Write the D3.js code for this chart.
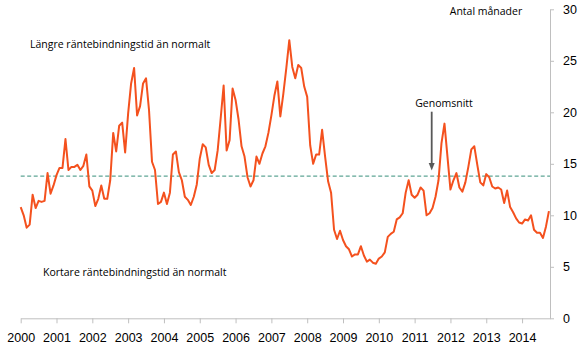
<!DOCTYPE html>
<html>
<head>
<meta charset="utf-8">
<script src="https://cdn.jsdelivr.net/npm/d3@7"></script>
<style>
  body { margin: 0; background: #fff; }
  svg { display: block; font-family: "Open Sans", sans-serif; }
</style>
</head>
<body>
<div id="chart"></div>
<script>
// monthly values, Jan 2000 - Oct 2014 (antal månader)
const startYear = 2000;
const months = [
    10.8, 10.0, 8.8, 9.1, 12.0, 10.7, 11.4, 11.3, 11.4, 14.1, 12.1, 12.9,
    13.9, 14.6, 14.6, 17.4, 14.4, 14.7, 14.7, 14.9, 14.4, 14.8, 15.9, 12.8,
    12.4, 10.9, 11.6, 12.9, 11.6, 11.6, 13.4, 18.0, 16.2, 18.7, 19.0, 16.1,
    19.9, 22.8, 24.3, 19.7, 20.6, 22.8, 23.3, 20.2, 15.2, 14.4, 11.1, 11.3,
    12.2, 11.1, 12.2, 15.9, 16.2, 14.2, 13.4, 11.8, 11.5, 11.0, 11.8, 13.0,
    15.5, 16.9, 16.6, 14.9, 14.1, 14.4, 16.3, 19.4, 22.6, 16.3, 17.3, 22.3,
    21.2, 19.3, 16.7, 15.7, 13.7, 12.8, 13.4, 15.7, 15.0, 16.0, 16.7, 18.0,
    19.7, 21.6, 23.0, 19.6, 21.8, 24.3, 27.0, 24.4, 23.3, 24.6, 24.3, 22.5,
    21.5, 16.8, 15.0, 15.9, 15.9, 18.3, 15.7, 13.3, 12.2, 8.6, 7.7, 8.5,
    7.6, 7.0, 6.7, 6.0, 6.2, 6.2, 7.0, 6.1, 5.5, 5.7, 5.4, 5.3,
    5.8, 6.0, 6.4, 7.9, 8.2, 8.4, 9.6, 9.8, 10.2, 12.2, 13.4, 12.0,
    11.7, 12.0, 12.7, 12.4, 10.0, 10.2, 10.7, 11.8, 13.4, 17.0, 18.9, 15.7,
    12.5, 13.4, 14.1, 12.7, 12.3, 13.2, 14.7, 16.4, 16.7, 14.9, 13.2, 12.9,
    14.0, 13.7, 12.8, 12.6, 12.7, 12.5, 11.2, 12.4, 10.8, 10.3, 9.7, 9.3,
    9.2, 9.6, 9.5, 10.0, 8.6, 8.3, 8.3, 7.8, 8.9, 10.4
];
const average = 13.8;
const yearTicks = d3.range(2000, 2015);
const yTicks = [0, 5, 10, 15, 20, 25, 30];

const WIDTH = 588, HEIGHT = 350;

const svg = d3.select("#chart")
    .append("svg")
    .attr("width", WIDTH)
    .attr("height", HEIGHT);

const x = d3.scaleLinear()
    .domain([startYear, 2014.78])
    .range([20.7, 550]);

const y = d3.scaleLinear()
    .domain([0, 30])
    .range([318.3, 9.3]);

const data = months.map((v, i) => ({ t: startYear + i / 12, v: v }));

// x axis
const xAxis = svg.append("g")
    .attr("transform", `translate(0, ${y(0)})`)
    .call(d3.axisBottom(x)
        .tickValues(yearTicks)
        .tickFormat(d3.format("d"))
        .tickSizeInner(5)
        .tickSizeOuter(0)
        .tickPadding(10));
xAxis.select(".domain").attr("stroke", "#bfbfbf");
xAxis.selectAll(".tick line").attr("stroke", "#bfbfbf");
xAxis.selectAll("text")
    .attr("font-size", "12.5px")
    .attr("fill", "#000");

// y axis on the right
const yAxis = svg.append("g")
    .attr("transform", `translate(${x.range()[1]}, 0)`)
    .call(d3.axisRight(y)
        .tickValues(yTicks)
        .tickSizeInner(4)
        .tickSizeOuter(0)
        .tickPadding(9));
yAxis.select(".domain").attr("stroke", "#bfbfbf");
yAxis.selectAll(".tick line").attr("stroke", "#bfbfbf");
yAxis.selectAll("text")
    .attr("font-size", "12.5px")
    .attr("fill", "#000");

// average line
svg.append("line")
    .attr("x1", x(startYear))
    .attr("x2", x.range()[1])
    .attr("y1", y(average))
    .attr("y2", y(average))
    .attr("stroke", "#5fa595")
    .attr("stroke-width", 1.3)
    .attr("stroke-dasharray", "4,2.5");

// series
const line = d3.line()
    .x(d => x(d.t))
    .y(d => y(d.v));

svg.append("path")
    .datum(data)
    .attr("fill", "none")
    .attr("stroke", "#f4511e")
    .attr("stroke-width", 2)
    .attr("stroke-linejoin", "round")
    .attr("d", line);

// annotations
svg.append("text")
    .attr("x", 486)
    .attr("y", 14.5)
    .attr("text-anchor", "middle")
    .attr("font-size", "10.5px")
    .text("Antal månader");

svg.append("text")
    .attr("x", 30)
    .attr("y", 48)
    .attr("font-size", "10.5px")
    .text("Längre räntebindningstid än normalt");

svg.append("text")
    .attr("x", 43)
    .attr("y", 275.5)
    .attr("font-size", "10.5px")
    .text("Kortare räntebindningstid än normalt");

svg.append("text")
    .attr("x", 444)
    .attr("y", 107)
    .attr("text-anchor", "middle")
    .attr("font-size", "10.5px")
    .text("Genomsnitt");

// arrow pointing at the average line
const arrowX = 431.7;
svg.append("line")
    .attr("x1", arrowX)
    .attr("x2", arrowX)
    .attr("y1", 111.7)
    .attr("y2", 164)
    .attr("stroke", "#595959")
    .attr("stroke-width", 1.8);

svg.append("path")
    .attr("d", `M${arrowX - 3},163 L${arrowX + 3},163 L${arrowX},170.5 Z`)
    .attr("fill", "#595959");
</script>
</body>
</html>
